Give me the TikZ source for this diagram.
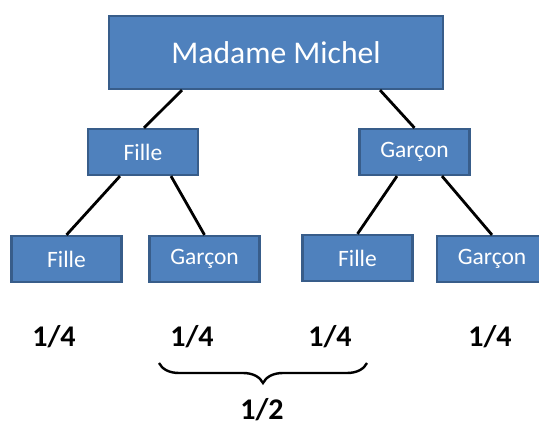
\documentclass[tikz,border=0pt]{standalone}
\usepackage{fontspec}
\setmainfont{Carlito}
\usetikzlibrary{calc,decorations.pathreplacing}
\definecolor{boxfill}{HTML}{4F81BD}
\definecolor{boxline}{HTML}{385D8A}
\tikzset{
  pbox/.style={draw=boxline, fill=boxfill, line width=2.2pt, text=white,
    minimum width=110pt, minimum height=46pt, inner sep=0pt, font=\fontsize{23.5}{27}\selectfont},
  bigbox/.style={pbox, minimum width=334pt, minimum height=73pt, font=\fontsize{31.6}{36}\selectfont},
  link/.style={line width=2.8pt, black},
  prob/.style={font=\bfseries\fontsize{30}{34}\selectfont, inner sep=0pt}
}
\begin{document}
\begin{tikzpicture}[x=1pt,y=-1pt]
\useasboundingbox (0,0) rectangle (539,430);
\node[bigbox] (top) at (276,52.5) {Madame Michel};
\node[pbox] (f) at (143,152) {Fille};
\node[pbox] (g) at (414.5,152) {Garçon};
\node[pbox] (ff) at (66.5,259) {Fille};
\node[pbox] (fg) at (204.5,259) {Garçon};
\node[pbox] (gf) at (357.5,258) {Fille};
\node[pbox] (gg) at (492,259) {Garçon};
\draw[link] ([xshift=-94pt]top.south) -- ([xshift=1pt]f.north);
\draw[link] ([xshift=104pt]top.south) -- (g.north);
\draw[link] ([xshift=-23pt]f.south) -- (ff.north);
\draw[link] ([xshift=28pt]f.south) -- (fg.north);
\draw[link] ([xshift=-17.5pt]g.south) -- (gf.north);
\draw[link] ([xshift=27.5pt]g.south) -- (gg.north);
\node[prob] (p1) at (54,337) {1/4};
\node[prob] (p2) at (192,337) {1/4};
\node[prob] (p3) at (330,337) {1/4};
\node[prob] (p4) at (490,337) {1/4};
\coordinate (br) at (367,363);
\coordinate (bl) at (159,363);
\draw[line width=2.4pt, decorate, decoration={brace, amplitude=20pt}] (br) -- (bl);
\node[prob] (half) at (262,410) {1/2};
\end{tikzpicture}
\end{document}
